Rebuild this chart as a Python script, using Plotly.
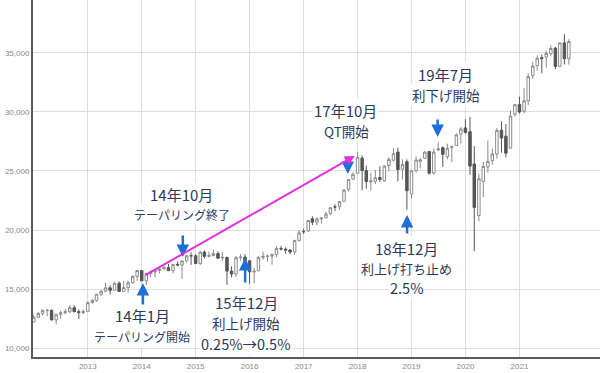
import plotly.graph_objects as go

# Monthly Dow Jones Industrial Average, Jan 2012 - Dec 2021
months = [f"{y}-{m:02d}-01" for y in range(2012, 2022) for m in range(1, 13)]

opens = [
    12221, 12632, 12952, 13212, 13214, 12391, 12880, 13009, 13091, 13437, 13096, 13026,
    13104, 13861, 14054, 14580, 14840, 15116, 14911, 15500, 14810, 15133, 15546, 16086,
    16572, 15698, 16321, 16460, 16580, 16718, 16828, 16561, 17099, 17041, 17391, 17827,
    17823, 17169, 18135, 17778, 17842, 18012, 17638, 17690, 16528, 16285, 17664, 17719,
    17405, 16452, 16546, 17687, 17783, 17790, 17925, 18434, 18396, 18309, 18143, 19122,
    19872, 19923, 20957, 20665, 20962, 21030, 21392, 21961, 21982, 22423, 23442, 24305,
    24809, 26083, 25025, 24076, 24117, 24437, 24161, 25461, 25916, 26599, 25152, 25780,
    23058, 24999, 25819, 26076, 26640, 24819, 26787, 26963, 26198, 26963, 27145, 28109,
    28638, 28320, 25591, 21227, 24120, 25342, 25880, 26419, 28439, 27941, 26925, 29797,
    30627, 30055, 30924, 33054, 33904, 34584, 34634, 34926, 35392, 33844, 35834, 34483,
]
highs = [
    12841, 13055, 13289, 13338, 13280, 12898, 13159, 13331, 13653, 13662, 13290, 13290,
    13969, 14150, 14586, 14888, 15542, 15340, 15634, 15659, 15709, 15722, 16174, 16588,
    16588, 16399, 16588, 16632, 16735, 16978, 17152, 17153, 17350, 17395, 17895, 18103,
    17951, 18244, 18289, 18175, 18351, 18204, 18137, 17747, 16933, 17799, 17977, 17955,
    17405, 16795, 17791, 18168, 17934, 18016, 18623, 18668, 18534, 18399, 19152, 19988,
    20126, 20851, 21170, 21071, 21113, 21529, 21929, 22179, 22420, 23485, 24328, 24876,
    26617, 26306, 25450, 24858, 25087, 25402, 25461, 26167, 26952, 26952, 25980, 25980,
    25087, 26242, 26109, 26696, 26659, 26908, 27398, 27088, 27306, 27143, 28175, 28702,
    29374, 29569, 27102, 24765, 25759, 27581, 26888, 28648, 29199, 28955, 30116, 30637,
    31272, 32010, 33259, 34257, 34777, 34849, 35171, 35631, 35510, 35892, 36566, 36150,
]
lows = [
    12221, 12553, 12758, 12710, 12391, 12035, 12492, 12873, 12977, 13035, 12471, 12883,
    13104, 13784, 13938, 14434, 14730, 14551, 14910, 14760, 14777, 14720, 15450, 15703,
    15699, 15341, 16018, 16015, 16330, 16656, 16563, 16334, 16945, 15855, 17264, 17067,
    17136, 17037, 17585, 17687, 17791, 17576, 17399, 15370, 16013, 16013, 17406, 17129,
    15451, 15504, 16546, 17485, 17331, 17064, 17713, 18283, 18000, 17959, 17884, 19019,
    19677, 19831, 20413, 20380, 20554, 21030, 21279, 21600, 21709, 22416, 23242, 24242,
    24742, 23360, 23509, 23345, 23908, 24077, 24084, 24965, 25811, 24123, 24268, 21713,
    22639, 24883, 25208, 26018, 24680, 24681, 26666, 25339, 25979, 25743, 27145, 27325,
    28169, 24681, 18214, 20735, 22790, 24843, 25524, 26056, 26537, 26144, 26925, 29601,
    29857, 29865, 30548, 32787, 33474, 33271, 33741, 34691, 33614, 33785, 34006, 33987,
]
closes = [
    12633, 12952, 13212, 13214, 12393, 12880, 13009, 13091, 13437, 13096, 13026, 13104,
    13861, 14054, 14579, 14840, 15116, 14910, 15500, 14810, 15130, 15546, 16086, 16577,
    15699, 16322, 16458, 16581, 16717, 16827, 16563, 17098, 17043, 17391, 17828, 17823,
    17165, 18133, 17776, 17841, 18011, 17620, 17690, 16528, 16285, 17664, 17720, 17425,
    16466, 16517, 17685, 17774, 17787, 17930, 18432, 18401, 18308, 18142, 19124, 19763,
    19864, 20812, 20663, 20941, 21009, 21350, 21891, 21948, 22405, 23377, 24272, 24719,
    26149, 25029, 24103, 24163, 24416, 24271, 25415, 25965, 26458, 25116, 25538, 23327,
    25000, 25916, 25929, 26593, 24815, 26600, 26864, 26403, 26917, 27046, 28051, 28538,
    28256, 25409, 21917, 24346, 25383, 25813, 26428, 28430, 27782, 26502, 29639, 30606,
    29983, 30932, 32982, 33875, 34529, 34503, 34935, 35361, 33844, 35820, 34484, 35950,
]

year_ticks = [f"{y}-01-01" for y in range(2013, 2022)]
year_labels = [str(y) for y in range(2013, 2022)]
value_ticks = [10000, 15000, 20000, 25000, 30000, 35000]

# Event annotations: (x date, y value, text, font size)
event_texts = [
    ("2014-01-06", 12733, "14年1月", 15),
    ("2014-01-06", 10956, "テーパリング開始", 12),
    ("2014-09-27", 22969, "14年10月", 15),
    ("2014-09-29", 21277, "テーパリング終了", 12),
    ("2015-12-12", 13832, "15年12月", 15),
    ("2015-12-06", 12140, "利上げ開始", 13.5),
    ("2015-12-06", 10448, "0.25%→0.5%", 14.5),
    ("2017-10-13", 30118, "17年10月", 15),
    ("2017-10-20", 28341, "QT開始", 13.5),
    ("2018-11-29", 18401, "18年12月", 15),
    ("2018-11-29", 16709, "利上げ打ち止め", 13),
    ("2018-11-26", 15101, "2.5%", 14.5),
    ("2019-08-20", 33121, "19年7月", 15),
    ("2019-08-23", 31429, "利下げ開始", 13.5),
]
# Blue arrows: (x date, tail value, head value)
event_arrows = [
    ("2014-01-09", 13579, 15524),
    ("2014-10-06", 19670, 17724),
    ("2015-12-02", 15440, 17640),
    ("2017-10-27", 26353, 24746),
    ("2018-12-02", 19585, 21277),
    ("2019-06-27", 29483, 27876),
]
# Magenta trend arrow: start -> end
trend_start = ("2014-01-16", 16117)
trend_end = ("2017-12-13", 26269)

fig = go.Figure()
fig.add_trace(go.Candlestick(
    x=months, open=opens, high=highs, low=lows, close=closes,
    increasing=dict(line=dict(color="#8a8a8a", width=1), fillcolor="white"),
    decreasing=dict(line=dict(color="#555555", width=1), fillcolor="#555555"),
    whiskerwidth=0,
    showlegend=False,
    hoverinfo="x+y",
))

annotations = []
for x, y, t, s in event_texts:
    annotations.append(dict(
        x=x, y=y, xref="x", yref="y", text=t, showarrow=False,
        font=dict(family="Noto Sans CJK JP", size=s, color="#2a3a5e"),
        bgcolor="white", borderpad=1, xanchor="center", yanchor="middle",
    ))
for x, tail, head in event_arrows:
    annotations.append(dict(
        x=x, y=head, ax=x, ay=tail, xref="x", yref="y", axref="x", ayref="y",
        text="", showarrow=True, arrowhead=2, arrowsize=1, arrowwidth=2.5,
        arrowcolor="#1f6fd8", standoff=0, startstandoff=0,
    ))
annotations.append(dict(
    x=trend_end[0], y=trend_end[1], ax=trend_start[0], ay=trend_start[1],
    xref="x", yref="y", axref="x", ayref="y",
    text="", showarrow=True, arrowhead=2, arrowsize=1, arrowwidth=2,
    arrowcolor="#e030e0", standoff=0, startstandoff=0,
))

fig.update_layout(
    width=600, height=373,
    margin=dict(l=33, r=0, t=0, b=16, pad=0),
    paper_bgcolor="white", plot_bgcolor="white",
    annotations=annotations,
    showlegend=False,
    boxgap=0.15,
    xaxis=dict(
        type="date", range=["2011-12-27", "2022-06-30"],
        rangeslider=dict(visible=False),
        tickvals=year_ticks, ticktext=year_labels,
        tickfont=dict(family="Liberation Sans", size=8, color="#888888"),
        showgrid=True, gridcolor="#dddddd", gridwidth=1,
        showline=True, linecolor="#5a5a5a", linewidth=2,
        ticks="", zeroline=False,
    ),
    yaxis=dict(
        range=[9264, 39458],
        tickvals=value_ticks, tickformat=",",
        tickfont=dict(family="Liberation Sans", size=8, color="#888888"),
        showgrid=True, gridcolor="#dddddd", gridwidth=1,
        showline=True, linecolor="#5a5a5a", linewidth=2,
        ticks="", zeroline=False,
    ),
)

fig.write_html(
    "out.html",
    config={"displayModeBar": False},
    post_script="document.body.style.margin='0';document.body.style.overflow='hidden';",
)
